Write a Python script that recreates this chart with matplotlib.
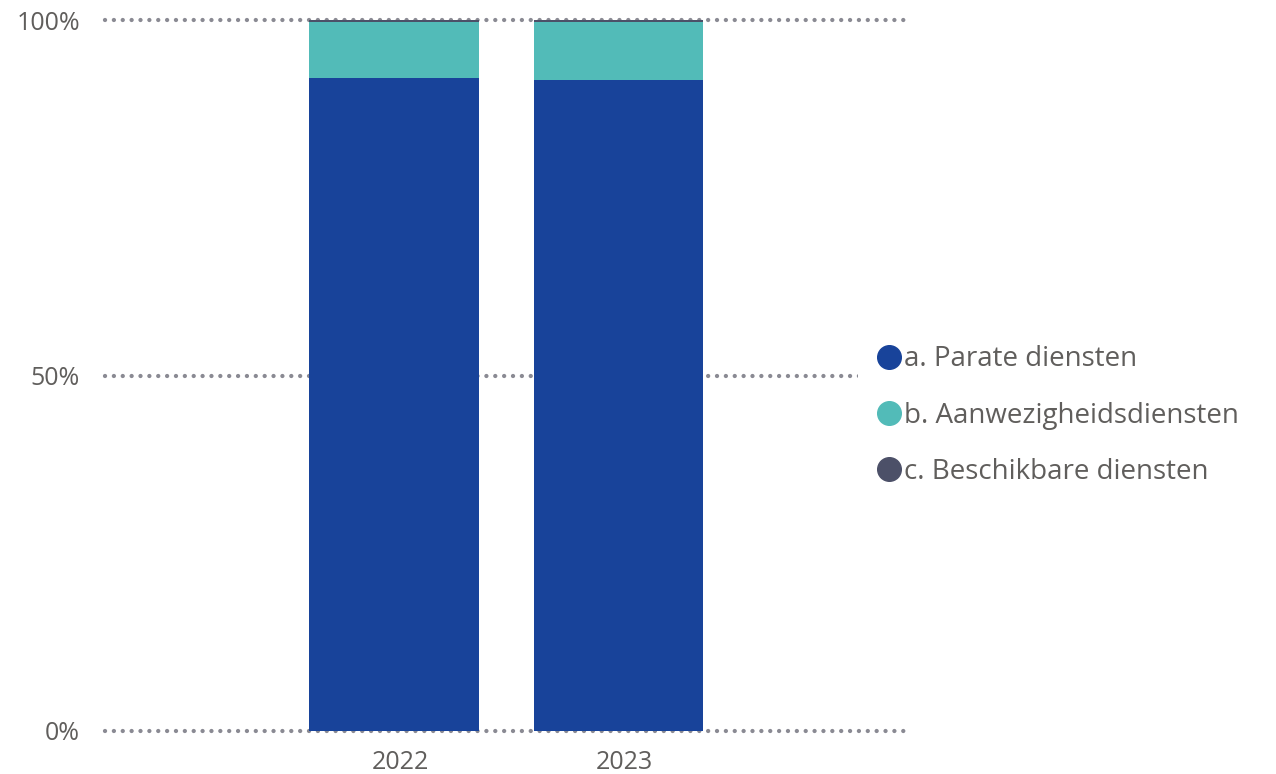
import matplotlib.pyplot as plt
import matplotlib.transforms as mtransforms
import numpy as np
from matplotlib.lines import Line2D

plt.rcParams['font.family'] = ['Open Sans', 'DejaVu Sans']

# data (share in %)
years = ['2022', '2023']
series_names = ['a. Parate diensten', 'b. Aanwezigheidsdiensten', 'c. Beschikbare diensten']
parate = [91.8, 91.6]
aanwezig = [7.9, 8.1]
beschikbaar = [0.3, 0.3]
colors = ['#18439a', '#52bbb8', '#4c5068']
yticks = [0, 50, 100]
ytick_labels = ['0%', '50%', '100%']

fig = plt.figure(figsize=(12.76, 7.74), dpi=100)
ax = fig.add_axes([105 / 1276, 43 / 774, (907 - 105) / 1276, (731 - 20) / 774])

x = np.arange(len(years))
width = 0.757

# dotted gridlines behind the bars
for t in yticks:
    ax.axhline(t, color='#8a8a93', linewidth=3.1, linestyle=(0, (0.01, 2.05)),
               dash_capstyle='round', zorder=0, clip_on=False)

bottom = np.zeros(len(years))
for vals, c in zip([parate, aanwezig, beschikbaar], colors):
    ax.bar(x, vals, width, bottom=bottom, color=c, zorder=2)
    bottom += np.array(vals)

ax.set_xlim(-1.287, 2.285)
ax.set_ylim(0, 100)
ax.set_yticks(yticks)
ax.set_yticklabels(ytick_labels)
ax.set_xticks(x)
ax.set_xticklabels(years)
ax.tick_params(axis='both', length=0, labelsize=18, labelcolor='#605e5c')
ax.tick_params(axis='y', pad=18)
ax.tick_params(axis='x', pad=14)
# year labels sit a little right of the bar centres in the original
shift = mtransforms.ScaledTranslation(6 / 100, 0, fig.dpi_scale_trans)
for lbl in ax.get_xticklabels():
    lbl.set_transform(lbl.get_transform() + shift)
for s in ax.spines.values():
    s.set_visible(False)

handles = [Line2D([], [], marker='o', linestyle='none', markersize=17,
                  markerfacecolor=c, markeredgecolor=c) for c in colors]
leg = fig.legend(handles, series_names, loc='upper left', bbox_to_anchor=(858 / 1276, 1 - 327 / 774),
                 frameon=True, facecolor='white', edgecolor='none', framealpha=1, fancybox=False,
                 borderpad=0.66, fontsize=20, labelcolor='#605e5c', handletextpad=0.1,
                 labelspacing=1.02, handlelength=0.9, borderaxespad=0)

plt.savefig('out.png', dpi=100)
plt.close()
